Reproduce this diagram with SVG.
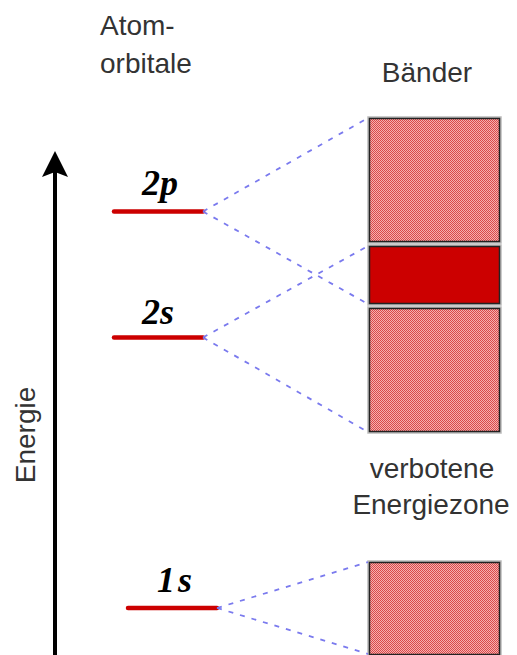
<svg xmlns="http://www.w3.org/2000/svg" width="517" height="655" viewBox="0 0 517 655">
<defs>
<pattern id="chk" patternUnits="userSpaceOnUse" x="0" y="0" width="2" height="2">
<rect width="2" height="2" fill="#f6b0b0"/>
<rect x="0" y="0" width="1" height="1" fill="#da4a4a"/>
<rect x="1" y="1" width="1" height="1" fill="#da4a4a"/>
</pattern>
</defs>
<style>
.lbl{font-family:"Liberation Sans",Arial,sans-serif;font-size:28px;fill:#333;}
.orb{font-family:"Liberation Serif","Times New Roman",serif;font-style:italic;font-weight:bold;font-size:36px;fill:#000;}
.lvl{stroke:#cc0000;stroke-width:4.5;stroke-linecap:round;}
.band{fill:url(#chk);stroke:#222;stroke-width:1.5;}
.halo{fill:none;stroke:#bbb;stroke-width:3.5;}
.dark{fill:#cc0000;stroke:#222;stroke-width:1.5;}
.dash{stroke:#7a7aee;stroke-width:1.8;stroke-dasharray:5,7;fill:none;}
</style>
<rect width="517" height="655" fill="#fff"/>
<g id="title-atom">
<text class="lbl" x="100" y="35">Atom-</text>
<text class="lbl" x="100" y="73">orbitale</text>
</g>
<g id="title-baender"><text class="lbl" x="427" y="82" text-anchor="middle">Bänder</text></g>
<g id="axis-label"><text class="lbl" transform="translate(35,435) rotate(-90)" text-anchor="middle">Energie</text></g>
<g id="gap-label">
<text class="lbl" x="432" y="478" text-anchor="middle">verbotene</text>
<text class="lbl" x="431" y="514" text-anchor="middle">Energiezone</text>
</g>
<g id="level-2p">
<line class="lvl" x1="114" y1="211.5" x2="203" y2="211.5"/>
<text class="orb" x="142" y="195">2p</text>
</g>
<g id="level-2s">
<line class="lvl" x1="114" y1="337.5" x2="203" y2="337.5"/>
<text class="orb" x="142" y="324">2s</text>
</g>
<g id="level-1s">
<line class="lvl" x1="128" y1="608" x2="217" y2="608"/>
<text class="orb" x="157" y="592" letter-spacing="3">1s</text>
</g>
<g id="band-top">
<rect class="halo" x="369" y="118" width="131" height="124"/>
<rect class="band" x="369.5" y="118.5" width="130" height="123"/>
</g>
<g id="band-dark">
<rect class="halo" x="369" y="246" width="131" height="58"/>
<rect class="dark" x="369.5" y="246.5" width="130" height="57"/>
</g>
<g id="band-lower">
<rect class="halo" x="369" y="308" width="131" height="124"/>
<rect class="band" x="369.5" y="308.5" width="130" height="123"/>
</g>
<g id="band-1s">
<rect class="halo" x="369" y="562" width="131" height="93"/>
<rect class="band" x="369.5" y="562.5" width="130" height="92"/>
</g>
<g id="connectors">
<line x1="55" y1="655" x2="55" y2="168" stroke="#000" stroke-width="4"/>
<polygon points="55,151 68,177 55,172 42,177" fill="#000"/>
<line class="dash" x1="203" y1="211.5" x2="368" y2="118"/>
<line class="dash" x1="203" y1="211.5" x2="368" y2="304"/>
<line class="dash" x1="203" y1="337.5" x2="368" y2="246"/>
<line class="dash" x1="203" y1="337.5" x2="368" y2="432"/>
<line class="dash" x1="217" y1="608" x2="368" y2="562"/>
<line class="dash" x1="217" y1="608" x2="368" y2="654"/>
</g>
</svg>
